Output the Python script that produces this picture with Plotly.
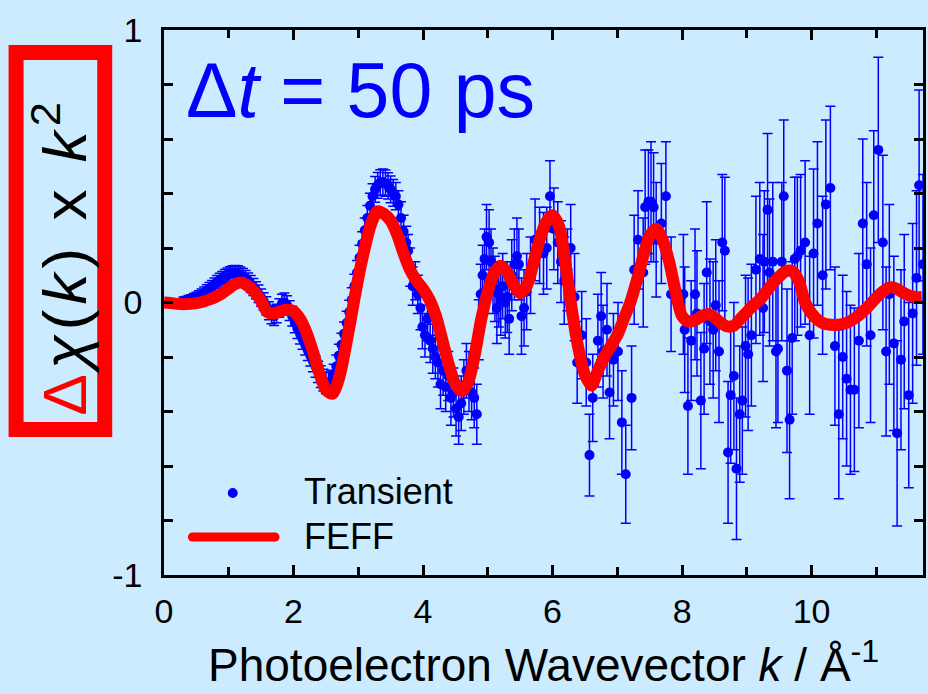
import plotly.graph_objects as go

# ---------------- data ----------------
k_lo = [0.30,0.34,0.38,0.42,0.46,0.50,0.54,0.58,0.62,0.66,0.70,0.74,0.78,0.82,0.86,0.90,0.94,0.98,
        1.02,1.06,1.10,1.14,1.18,1.22,1.26,1.30,1.34,1.38,1.42,1.46,1.50,1.54,1.58,1.62,1.66,1.70,1.74,1.78,1.82,1.86,1.90,1.94,1.98,
        2.02,2.06,2.10,2.14,2.18,2.22,2.26,2.30,2.34,2.38,2.42,2.46,2.50,2.54,2.58,2.62,2.66,2.70,2.74,2.78,2.82,2.86,2.90,2.94,2.98,
        3.02,3.06,3.10,3.14,3.18,3.22,3.26,3.30,3.34,3.38,3.42,3.46,3.50,3.54]
chi_lo = [0.005,0.007,0.010,0.012,0.016,0.020,0.025,0.031,0.037,0.044,0.051,0.059,0.067,0.075,0.082,0.089,0.095,0.100,
          0.104,0.107,0.108,0.106,0.101,0.095,0.087,0.078,0.068,0.057,0.045,0.032,0.018,0.004,-0.012,-0.030,-0.045,-0.050,-0.040,-0.020,-0.005,0.000,-0.010,-0.030,-0.050,
          -0.075,-0.095,-0.115,-0.135,-0.155,-0.175,-0.195,-0.215,-0.235,-0.255,-0.272,-0.285,-0.295,-0.298,-0.290,-0.268,-0.235,-0.195,-0.155,-0.115,-0.075,-0.035,0.010,0.060,0.110,
          0.165,0.215,0.265,0.310,0.355,0.390,0.415,0.430,0.440,0.442,0.438,0.428,0.415,0.402]
err_lo = [0.015,0.015,0.016,0.016,0.017,0.018,0.018,0.019,0.020,0.021,0.022,0.022,0.023,0.024,0.025,0.025,0.026,0.027,
          0.027,0.028,0.028,0.029,0.029,0.030,0.030,0.030,0.031,0.031,0.031,0.032,0.032,0.032,0.033,0.033,0.033,0.034,0.034,0.034,0.035,0.035,0.035,0.036,0.036,
          0.036,0.037,0.037,0.037,0.038,0.038,0.038,0.039,0.039,0.039,0.040,0.040,0.040,0.041,0.041,0.041,0.042,0.042,0.042,0.043,0.043,0.043,0.044,0.044,0.044,
          0.045,0.045,0.045,0.046,0.046,0.046,0.047,0.047,0.047,0.048,0.048,0.048,0.049,0.049]

k_mid = [3.58,3.62,3.66,3.70,3.74,3.77,3.80,3.84,3.88,3.92,
         3.96,3.99,4.03,4.07,4.11,4.15,4.19,4.23,4.27,4.31,
         4.35,4.39,4.43,4.47,4.51,4.55,4.59,4.63,4.67,4.71,
         4.75,4.79,4.83,4.86,4.89,4.92,4.95,4.98,
         5.02,5.05,5.08,5.11,5.14,5.17,5.20,5.23,5.27,5.30,
         5.33,5.37,5.41,5.45,5.48,5.52,5.56,5.60,5.66,5.73,
         5.80,5.86,5.91,5.96,6.02,6.08,6.13,6.18,6.23,6.28,
         6.34,6.38,6.45,6.52,6.57,6.62,6.70,6.75,6.78,6.84,
         6.88,6.94,7.01]
chi_mid = [0.39,0.36,0.31,0.26,0.22,0.19,0.13,0.06,0.08,0.03,
           -0.02,-0.09,-0.12,-0.06,-0.14,-0.17,-0.20,-0.22,-0.30,-0.25,
           -0.31,-0.27,-0.35,-0.33,-0.39,-0.42,-0.37,-0.31,-0.25,-0.29,
           -0.33,-0.35,-0.41,-0.10,0.03,0.10,0.16,0.24,
           0.22,0.15,0.08,0.05,-0.02,0.03,0.01,0.06,0.00,0.02,
           -0.06,0.10,0.14,0.17,0.14,-0.05,-0.02,0.04,0.10,0.23,
           0.21,0.18,0.20,0.39,0.27,0.22,0.15,0.08,0.12,0.20,
           0.02,-0.22,-0.12,-0.22,-0.56,-0.35,-0.14,-0.05,-0.18,-0.10,
           -0.33,-0.21,-0.18]
err_mid = [0.05,0.05,0.06,0.06,0.06,0.06,0.07,0.07,0.07,0.07,
           0.08,0.08,0.08,0.08,0.08,0.09,0.08,0.09,0.09,0.09,
           0.09,0.09,0.10,0.09,0.10,0.10,0.10,0.10,0.10,0.11,
           0.10,0.11,0.11,0.11,0.11,0.11,0.11,0.12,
           0.12,0.12,0.12,0.12,0.13,0.12,0.13,0.12,0.13,0.13,
           0.13,0.13,0.13,0.14,0.13,0.14,0.14,0.14,0.14,0.15,
           0.14,0.15,0.15,0.13,0.15,0.15,0.15,0.16,0.15,0.16,
           0.16,0.15,0.16,0.16,0.15,0.16,0.17,0.16,0.17,0.17,
           0.17,0.17,0.18]

k_hi = [7.07,7.13,7.22,7.26,7.32,7.40,7.43,7.48,7.52,7.56,
        7.60,7.68,7.75,7.83,8.02,8.04,8.09,8.14,8.20,8.23,
        8.29,8.34,8.38,8.43,8.48,8.52,8.57,8.62,8.66,8.71,
        8.75,8.80,8.84,8.89,8.93,8.98,9.02,9.07,9.14,9.20,
        9.25,9.27,9.32,9.35,9.40,9.45,9.48,9.54,9.57,9.62,
        9.66,9.70,9.74,9.78,9.83,9.90,9.97,10.03,10.09,10.17,
        10.22,10.29,10.36,10.42,10.48,10.54,10.60,10.66,10.73,10.79,
        10.85,10.91,10.96,11.03,11.10,11.15,11.20,11.27,11.32,11.38,
        11.43,11.50,11.56,11.62,11.66,11.72]
chi_hi = [-0.44,-0.63,-0.35,0.12,0.23,0.11,0.35,0.37,0.37,0.35,
          0.23,0.29,0.39,0.03,0.03,-0.10,-0.38,-0.14,0.03,-0.04,
          -0.36,-0.17,0.11,-0.07,-0.10,-0.01,-0.18,0.22,0.19,-0.55,
          -0.34,-0.27,-0.61,-0.41,-0.36,-0.16,-0.19,-0.12,0.12,0.16,
          -0.02,0.15,0.34,0.11,0.15,-0.18,-0.17,0.15,0.39,-0.25,
          -0.43,-0.13,0.16,0.17,0.19,0.22,-0.12,0.18,0.29,0.10,
          0.36,0.42,-0.16,-0.41,-0.20,-0.28,-0.32,-0.32,-0.14,0.29,
          0.14,-0.12,0.32,0.56,0.22,-0.18,0.03,-0.15,-0.48,-0.21,
          -0.07,-0.34,-0.04,0.09,0.43,0.14]
err_hi = [0.19,0.18,0.19,0.20,0.18,0.20,0.21,0.19,0.22,0.20,
          0.21,0.22,0.20,0.21,0.22,0.23,0.25,0.22,0.24,0.23,
          0.25,0.24,0.26,0.23,0.25,0.24,0.26,0.25,0.27,0.26,
          0.25,0.27,0.26,0.25,0.27,0.26,0.28,0.26,0.27,0.28,
          0.27,0.26,0.28,0.27,0.29,0.28,0.27,0.29,0.28,0.30,
          0.29,0.28,0.30,0.29,0.28,0.30,0.29,0.31,0.30,0.29,
          0.31,0.30,0.29,0.31,0.30,0.32,0.31,0.30,0.32,0.31,
          0.30,0.32,0.31,0.34,0.32,0.31,0.33,0.32,0.34,0.33,
          0.32,0.34,0.33,0.32,0.35,0.33]

k_feff = [0.0,0.1,0.2,0.3,0.4,0.5,0.6,0.7,0.8,0.9,
          1.0,1.1,1.2,1.3,1.4,1.5,1.6,1.7,1.8,1.9,
          2.0,2.1,2.2,2.3,2.4,2.5,2.6,2.7,2.8,2.9,
          3.0,3.1,3.2,3.3,3.4,3.5,3.6,3.7,3.8,3.9,
          4.0,4.1,4.2,4.3,4.4,4.5,4.6,4.7,4.8,4.9,
          5.0,5.1,5.2,5.3,5.4,5.5,5.6,5.7,5.8,5.9,
          6.0,6.1,6.2,6.3,6.4,6.5,6.6,6.7,6.8,6.9,
          7.0,7.1,7.2,7.3,7.4,7.5,7.6,7.7,7.8,7.9,
          8.0,8.1,8.2,8.3,8.4,8.5,8.6,8.7,8.8,8.9,
          9.0,9.1,9.2,9.3,9.4,9.5,9.6,9.7,9.8,9.9,
          10.0,10.1,10.2,10.3,10.4,10.5,10.6,10.7,10.8,10.9,
          11.0,11.1,11.2,11.3,11.4,11.5,11.6,11.7]
chi_feff = [0.000,-0.002,-0.005,-0.006,-0.005,-0.002,0.003,0.011,0.021,0.034,
            0.052,0.068,0.073,0.060,0.038,0.005,-0.036,-0.040,-0.032,-0.027,
            -0.032,-0.060,-0.110,-0.180,-0.260,-0.320,-0.335,-0.280,-0.170,-0.040,
            0.090,0.200,0.290,0.335,0.325,0.300,0.250,0.180,0.120,0.080,
            0.050,0.010,-0.050,-0.140,-0.230,-0.300,-0.325,-0.290,-0.190,-0.060,
            0.040,0.110,0.135,0.110,0.065,0.035,0.060,0.140,0.230,0.295,
            0.320,0.280,0.140,-0.030,-0.170,-0.265,-0.305,-0.250,-0.200,-0.160,
            -0.120,-0.060,0.000,0.080,0.170,0.245,0.270,0.230,0.150,0.040,
            -0.050,-0.070,-0.065,-0.050,-0.042,-0.055,-0.075,-0.088,-0.085,-0.060,
            -0.035,-0.010,0.010,0.040,0.070,0.095,0.115,0.115,0.080,0.000,
            -0.040,-0.065,-0.078,-0.082,-0.082,-0.078,-0.068,-0.052,-0.032,-0.008,
            0.018,0.040,0.055,0.052,0.038,0.026,0.020,0.020]

x_tickvals = [0, 2, 4, 6, 8, 10]
x_ticktext = ["0", "2", "4", "6", "8", "10"]
y_tickvals = [-1, -0.8, -0.6, -0.4, -0.2, 0, 0.2, 0.4, 0.6, 0.8, 1]
y_ticktext = ["-1", " ", " ", " ", " ", "0", " ", " ", " ", " ", "1"]

# ---------------- figure ----------------
BG = "#CCEBFF"
FONT = "Liberation Sans, Arial, sans-serif"
W, H = 928, 694
L, T, R, B = 164, 30, 2, 119
PW, PH = W - L - R, H - T - B

def px(xp):
    return (xp - L) / PW

def py(yp):
    return (H - B - yp) / PH

k_tr = k_lo + k_mid + k_hi
chi_tr = chi_lo + chi_mid + chi_hi
err_tr = err_lo + err_mid + err_hi

fig = go.Figure()
fig.add_trace(go.Scatter(
    x=k_tr, y=chi_tr, mode="markers", name="Transient",
    marker=dict(color="#0000FF", size=10, line=dict(width=0)),
    error_y=dict(type="data", array=err_tr, visible=True, color="#0000FF", thickness=1.5, width=5),
    showlegend=False))
fig.add_trace(go.Scatter(
    x=k_feff, y=chi_feff, mode="lines", name="FEFF",
    line=dict(color="#FF0000", width=12, shape="spline", smoothing=0.8),
    showlegend=False))

axis_common = dict(showline=True, linecolor="black", linewidth=2.5, mirror="ticks",
                   ticks="inside", tickcolor="black", tickwidth=2.5,
                   showgrid=False, zeroline=False,
                   tickfont=dict(family=FONT, size=34, color="black"))
fig.update_xaxes(range=[0, 11.72], tickmode="array", tickvals=x_tickvals, ticktext=x_ticktext,
                 ticklen=10, ticklabelstandoff=4,
                 minor=dict(dtick=1, ticks="inside", ticklen=8, tickwidth=2.5, tickcolor="black", showgrid=False),
                 **axis_common)
fig.update_yaxes(range=[-1, 1], tickmode="array", tickvals=y_tickvals, ticktext=y_ticktext,
                 ticklen=9, ticklabelstandoff=12, **axis_common)

annotations = [
    dict(text="Δ<i>t</i> = 50 ps", x=px(184), y=py(90), xref="paper", yref="paper",
         xanchor="left", yanchor="middle", showarrow=False,
         font=dict(family=FONT, size=77, color="#0000FF")),
    dict(text="Photoelectron Wavevector <i>k</i> / Å<sup>-1</sup>", x=px(545), y=py(662),
         xref="paper", yref="paper", xanchor="center", yanchor="middle", showarrow=False,
         font=dict(family=FONT, size=46, color="black")),
    dict(text="<span style='letter-spacing:5px'><span style='color:#FF0000'>Δ</span><i>χ</i>(<i>k</i>) x <i>k</i><sup>2</sup></span>",
         x=px(60), y=py(256), xref="paper", yref="paper", xanchor="center", yanchor="middle",
         textangle=-90, showarrow=False, font=dict(family=FONT, size=62, color="black")),
    dict(text="Transient", x=px(303), y=py(492), xref="paper", yref="paper",
         xanchor="left", yanchor="middle", showarrow=False,
         font=dict(family=FONT, size=36, color="black")),
    dict(text="FEFF", x=px(303), y=py(536), xref="paper", yref="paper",
         xanchor="left", yanchor="middle", showarrow=False,
         font=dict(family=FONT, size=36, color="black")),
]

shapes = [
    # red frame around y-axis label
    dict(type="rect", xref="paper", yref="paper", x0=px(15.5), x1=px(104.5), y0=py(52.5), y1=py(429.5),
         line=dict(color="#FF0000", width=15), fillcolor="rgba(0,0,0,0)"),
    # legend symbols
    dict(type="circle", xref="paper", yref="paper", x0=px(228), x1=px(238), y0=py(488), y1=py(498),
         line=dict(width=0), fillcolor="#0000FF"),
    dict(type="line", xref="paper", yref="paper", x0=px(193), x1=px(275), y0=py(537), y1=py(537),
         line=dict(color="#FF0000", width=9)),
    dict(type="circle", xref="paper", yref="paper", x0=px(188), x1=px(197), y0=py(532.5), y1=py(541.5),
         line=dict(width=0), fillcolor="#FF0000"),
    dict(type="circle", xref="paper", yref="paper", x0=px(271), x1=px(280), y0=py(532.5), y1=py(541.5),
         line=dict(width=0), fillcolor="#FF0000"),
]

fig.update_layout(width=W, height=H, margin=dict(l=L, r=R, t=T, b=B, pad=0),
                  paper_bgcolor=BG, plot_bgcolor=BG, font=dict(family=FONT, color="black"),
                  annotations=annotations, shapes=shapes, showlegend=False)

fig.write_html("out.html")
